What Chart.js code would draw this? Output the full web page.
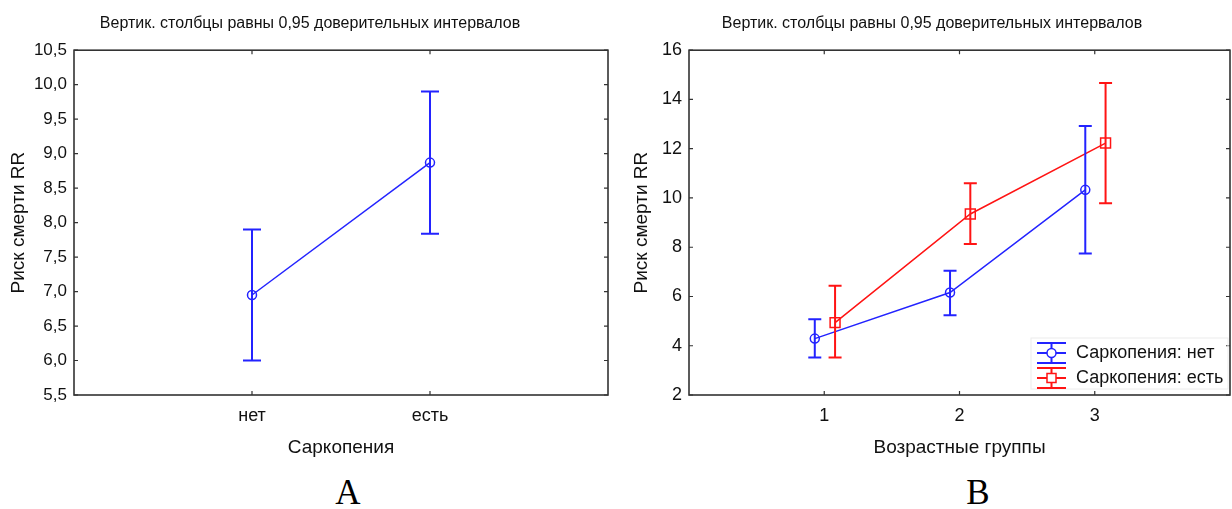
<!DOCTYPE html>
<html>
<head>
<meta charset="utf-8">
<script src="https://cdn.jsdelivr.net/npm/chart.js@4.4.1/dist/chart.umd.min.js"></script>
<style>
    body { margin: 0; width: 1232px; height: 509px; overflow: hidden; background: #fff; position: relative; }
    .box { position: absolute; top: 0; height: 470px; }
    .panel-label {
        position: absolute;
        font-family: "Liberation Serif", "Times New Roman", serif;
        font-size: 35px;
        color: #000;
        transform: translate(-50%, -50%);
    }
</style>
</head>
<body>
<div class="box" style="left:0; width:620px;"><canvas id="chartA"></canvas></div>
<div class="box" style="left:628px; width:606px;"><canvas id="chartB"></canvas></div>
<div class="panel-label" style="left:348px; top:493px;">A</div>
<div class="panel-label" style="left:978px; top:493px;">B</div>

<script>
// Panel A: risk of death by sarcopenia status
const sarcCategories = ['нет', 'есть'];
const sarcMean = [6.95, 8.87];
const sarcLow = [6.0, 7.84];
const sarcHigh = [7.9, 9.9];
const ticksA = [5.5, 6.0, 6.5, 7.0, 7.5, 8.0, 8.5, 9.0, 9.5, 10.0, 10.5];

// Panel B: risk of death by age group, split by sarcopenia
const ageGroups = ['1', '2', '3'];
const noSarcMean = [4.29, 6.16, 10.33];
const noSarcLow = [3.52, 5.24, 7.75];
const noSarcHigh = [5.08, 7.05, 12.92];
const yesSarcMean = [4.94, 9.35, 12.23];
const yesSarcLow = [3.52, 8.13, 9.79];
const yesSarcHigh = [6.44, 10.6, 14.67];
const ticksB = [2, 4, 6, 8, 10, 12, 14, 16];
const seriesNames = ['Саркопения: нет', 'Саркопения: есть'];

const titleText = 'Вертик. столбцы равны 0,95 доверительных интервалов';
const yTitle = 'Риск смерти RR';

const BLUE = '#2323ff';
const RED = '#ff1414';
const FONT = '"Liberation Sans", Arial, sans-serif';
const TEXT = '#111';

// vertical CI bars with caps, positioned through the chart scales
const errorBarPlugin = {
    id: 'errorBars',
    afterDatasetsDraw(chart) {
        const ctx = chart.ctx;
        const xs = chart.scales.x, ys = chart.scales.y;
        chart.data.datasets.forEach(ds => {
            ctx.save();
            ctx.strokeStyle = ds.borderColor;
            ctx.lineWidth = 2;
            ds.data.forEach((p, i) => {
                const x = xs.getPixelForValue(p.x);
                const yl = ys.getPixelForValue(ds.errLow[i]);
                const yh = ys.getPixelForValue(ds.errHigh[i]);
                const c = ds.capHalf;
                ctx.beginPath();
                ctx.moveTo(x, yl); ctx.lineTo(x, yh);
                ctx.moveTo(x - c, yl); ctx.lineTo(x + c, yl);
                ctx.moveTo(x - c, yh); ctx.lineTo(x + c, yh);
                ctx.stroke();
            });
            ctx.restore();
        });
    }
};

// box around plot with small inward ticks
const framePlugin = {
    id: 'frame',
    afterDraw(chart) {
        const ctx = chart.ctx;
        const a = chart.chartArea;
        const xs = chart.scales.x, ys = chart.scales.y;
        ctx.save();
        ctx.strokeStyle = '#333';
        ctx.lineWidth = 1.6;
        ctx.strokeRect(a.left, a.top, a.right - a.left, a.bottom - a.top);
        ctx.lineWidth = 1.2;
        ctx.beginPath();
        ys.ticks.forEach(t => {
            const y = ys.getPixelForValue(t.value);
            ctx.moveTo(a.left, y); ctx.lineTo(a.left + 4, y);
            ctx.moveTo(a.right, y); ctx.lineTo(a.right - 4, y);
        });
        xs.ticks.forEach(t => {
            const x = xs.getPixelForValue(t.value);
            ctx.moveTo(x, a.top); ctx.lineTo(x, a.top + 4);
            ctx.moveTo(x, a.bottom); ctx.lineTo(x, a.bottom - 4);
        });
        ctx.stroke();
        ctx.restore();
    }
};

// legend drawn inside the plot, with error-bar symbols
const ciLegendPlugin = {
    id: 'ciLegend',
    afterDraw(chart) {
        const ctx = chart.ctx;
        const a = chart.chartArea;
        const left = a.right - 193;
        ctx.save();
        ctx.strokeStyle = '#ececec';
        ctx.lineWidth = 1;
        ctx.strokeRect(left - 6, a.bottom - 57, 197, 51);
        chart.data.datasets.forEach((ds, i) => {
            const cy = a.bottom - 42 + i * 25;
            const cx = left + 14.5;
            ctx.strokeStyle = ds.borderColor;
            ctx.lineWidth = 2;
            ctx.beginPath();
            ctx.moveTo(left, cy - 10); ctx.lineTo(left + 29, cy - 10);
            ctx.moveTo(left, cy + 10); ctx.lineTo(left + 29, cy + 10);
            ctx.moveTo(cx, cy - 10); ctx.lineTo(cx, cy + 10);
            ctx.moveTo(left, cy); ctx.lineTo(left + 29, cy);
            ctx.stroke();
            ctx.lineWidth = 1.5;
            ctx.fillStyle = '#fff';
            ctx.beginPath();
            if (ds.pointStyle === 'rect') {
                ctx.rect(cx - 4.5, cy - 4.5, 9, 9);
            } else {
                ctx.arc(cx, cy, 4.5, 0, Math.PI * 2);
            }
            ctx.fill();
            ctx.stroke();
            ctx.fillStyle = TEXT;
            ctx.font = '18px ' + FONT;
            ctx.textBaseline = 'middle';
            ctx.fillText(ds.label, left + 39, cy);
        });
        ctx.restore();
    }
};

function makeOptions(cfg) {
    return {
        responsive: true,
        maintainAspectRatio: false,
        animation: false,
        layout: { autoPadding: false, padding: { left: cfg.padLeft, right: cfg.padRight, top: 0, bottom: 0 } },
        plugins: {
            legend: { display: false },
            tooltip: { enabled: false },
            title: {
                display: true,
                text: titleText,
                color: TEXT,
                font: { family: FONT, size: 16, weight: 'normal' },
                padding: { top: 14, bottom: 17 }
            }
        },
        scales: {
            x: {
                type: 'linear',
                min: 0,
                max: cfg.xMax,
                grid: { display: false, drawTicks: false },
                border: { display: false },
                afterBuildTicks: s => { s.ticks = cfg.xLabels.map((_, i) => ({ value: i + 1 })); },
                afterFit: s => { s.height = 75; },
                ticks: {
                    padding: 10,
                    maxRotation: 0,
                    color: TEXT,
                    font: { family: FONT, size: 18 },
                    callback: v => cfg.xLabels[v - 1]
                },
                title: {
                    display: true,
                    text: cfg.xTitle,
                    color: TEXT,
                    font: { family: FONT, size: 19 },
                    padding: { top: 0, bottom: 11 }
                }
            },
            y: {
                min: cfg.yTicks[0],
                max: cfg.yTicks[cfg.yTicks.length - 1],
                grid: { display: false, drawTicks: false },
                border: { display: false },
                afterBuildTicks: s => { s.ticks = cfg.yTicks.map(v => ({ value: v })); },
                afterFit: s => { s.width = cfg.yWidth; },
                ticks: {
                    padding: 7,
                    color: TEXT,
                    font: { family: FONT, size: cfg.yFont },
                    callback: cfg.yFormat
                },
                title: {
                    display: true,
                    text: yTitle,
                    color: TEXT,
                    font: { family: FONT, size: 19 },
                    padding: { top: cfg.yTitlePad, bottom: 0 }
                }
            }
        }
    };
}

function lineDataset(label, xs, means, lows, highs, color, style, cap) {
    return {
        label: label,
        data: means.map((v, i) => ({ x: xs[i], y: v })),
        errLow: lows,
        errHigh: highs,
        capHalf: cap,
        borderColor: color,
        borderWidth: 1.5,
        pointStyle: style,
        pointRadius: style === 'rect' ? 7 : 4.5,
        pointBorderWidth: 1.5,
        pointBorderColor: color,
        pointBackgroundColor: 'rgba(255,255,255,0)',
        tension: 0
    };
}

new Chart(document.getElementById('chartA'), {
    type: 'line',
    data: {
        datasets: [
            lineDataset('Саркопения', [1, 2], sarcMean, sarcLow, sarcHigh, BLUE, 'circle', 9)
        ]
    },
    options: makeOptions({
        padLeft: 12, padRight: 12, xMax: 3, xLabels: sarcCategories, xTitle: 'Саркопения',
        yTicks: ticksA, yWidth: 62, yFont: 17, yTitlePad: -5,
        yFormat: v => v.toFixed(1).replace('.', ',')
    }),
    plugins: [errorBarPlugin, framePlugin]
});

new Chart(document.getElementById('chartB'), {
    type: 'line',
    data: {
        datasets: [
            lineDataset(seriesNames[0], [0.93, 1.93, 2.93], noSarcMean, noSarcLow, noSarcHigh, BLUE, 'circle', 6.5),
            lineDataset(seriesNames[1], [1.08, 2.08, 3.08], yesSarcMean, yesSarcLow, yesSarcHigh, RED, 'rect', 6.5)
        ]
    },
    options: makeOptions({
        padLeft: 6, padRight: 4, xMax: 4, xLabels: ageGroups, xTitle: 'Возрастные группы',
        yTicks: ticksB, yWidth: 55, yFont: 18, yTitlePad: -4,
        yFormat: v => String(v)
    }),
    plugins: [errorBarPlugin, framePlugin, ciLegendPlugin]
});
</script>
</body>
</html>
